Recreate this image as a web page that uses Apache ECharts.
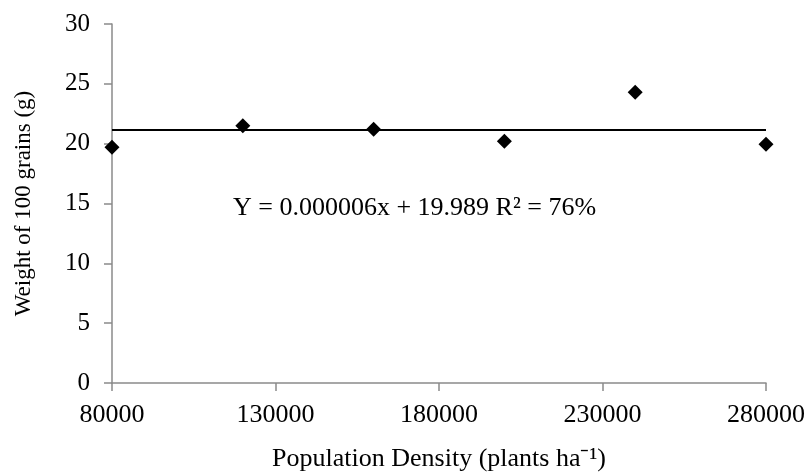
<!DOCTYPE html>
<html>
<head>
<meta charset="utf-8">
<script src="https://cdn.jsdelivr.net/npm/echarts@6/dist/echarts.min.js"></script>
<style>
html,body{margin:0;padding:0;background:#fff;}
#c{width:807px;height:474px;}
</style>
</head>
<body>
<div id="c"></div>
<script>
const density = [80000, 120000, 160000, 200000, 240000, 280000];
const grainWeight = [19.7, 21.5, 21.2, 20.2, 24.3, 19.95];
const lineX = [80000, 280000];
const lineY = [21.15, 21.15];
const xTitle = 'Population Density (plants ha⁻¹)';
const yTitle = 'Weight of 100 grains (g)';
const equation = 'Y = 0.000006x + 19.989 R² = 76%';

const FONT = '"Liberation Serif", "Times New Roman", serif';
const chart = echarts.init(document.getElementById('c'), null, {renderer: 'canvas'});
const axisColor = '#8a8a8a';
chart.setOption({
  animation: false,
  backgroundColor: '#fff',
  grid: {left: 112, right: 41, top: 24, bottom: 91, containLabel: false, outerBoundsMode: 'none'},
  xAxis: {
    type: 'value', min: 80000, max: 280000, interval: 50000,
    name: xTitle, nameLocation: 'middle', nameGap: 63,
    nameTextStyle: {fontFamily: FONT, fontSize: 26, color: '#000'},
    axisLine: {show: true, lineStyle: {color: axisColor, width: 1.5}},
    axisTick: {show: true, length: 8, lineStyle: {color: axisColor, width: 1.5}},
    axisLabel: {fontFamily: FONT, fontSize: 26, color: '#000', margin: 19,
      formatter: v => String(v)},
    splitLine: {show: false}
  },
  yAxis: {
    type: 'value', min: 0, max: 30, interval: 5,
    name: yTitle, nameLocation: 'middle', nameGap: 77, nameRotate: 90,
    nameTextStyle: {fontFamily: FONT, fontSize: 23, color: '#000'},
    axisLine: {show: true, lineStyle: {color: axisColor, width: 1.5}},
    axisTick: {show: true, length: 8, lineStyle: {color: axisColor, width: 1.5}},
    axisLabel: {fontFamily: FONT, fontSize: 25, color: '#000', margin: 22},
    splitLine: {show: false}
  },
  series: [
    {
      type: 'line',
      data: lineX.map((x, i) => [x, lineY[i]]),
      symbol: 'none',
      lineStyle: {color: '#000', width: 2},
      z: 2
    },
    {
      type: 'scatter',
      data: density.map((x, i) => [x, grainWeight[i]]),
      symbol: 'diamond',
      symbolSize: 15,
      itemStyle: {color: '#000', opacity: 1},
      z: 3
    }
  ],
  graphic: [{
    type: 'text',
    left: 233,
    top: 195,
    style: {text: equation, font: '26px ' + FONT, fill: '#000'}
  }]
});
</script>
</body>
</html>
